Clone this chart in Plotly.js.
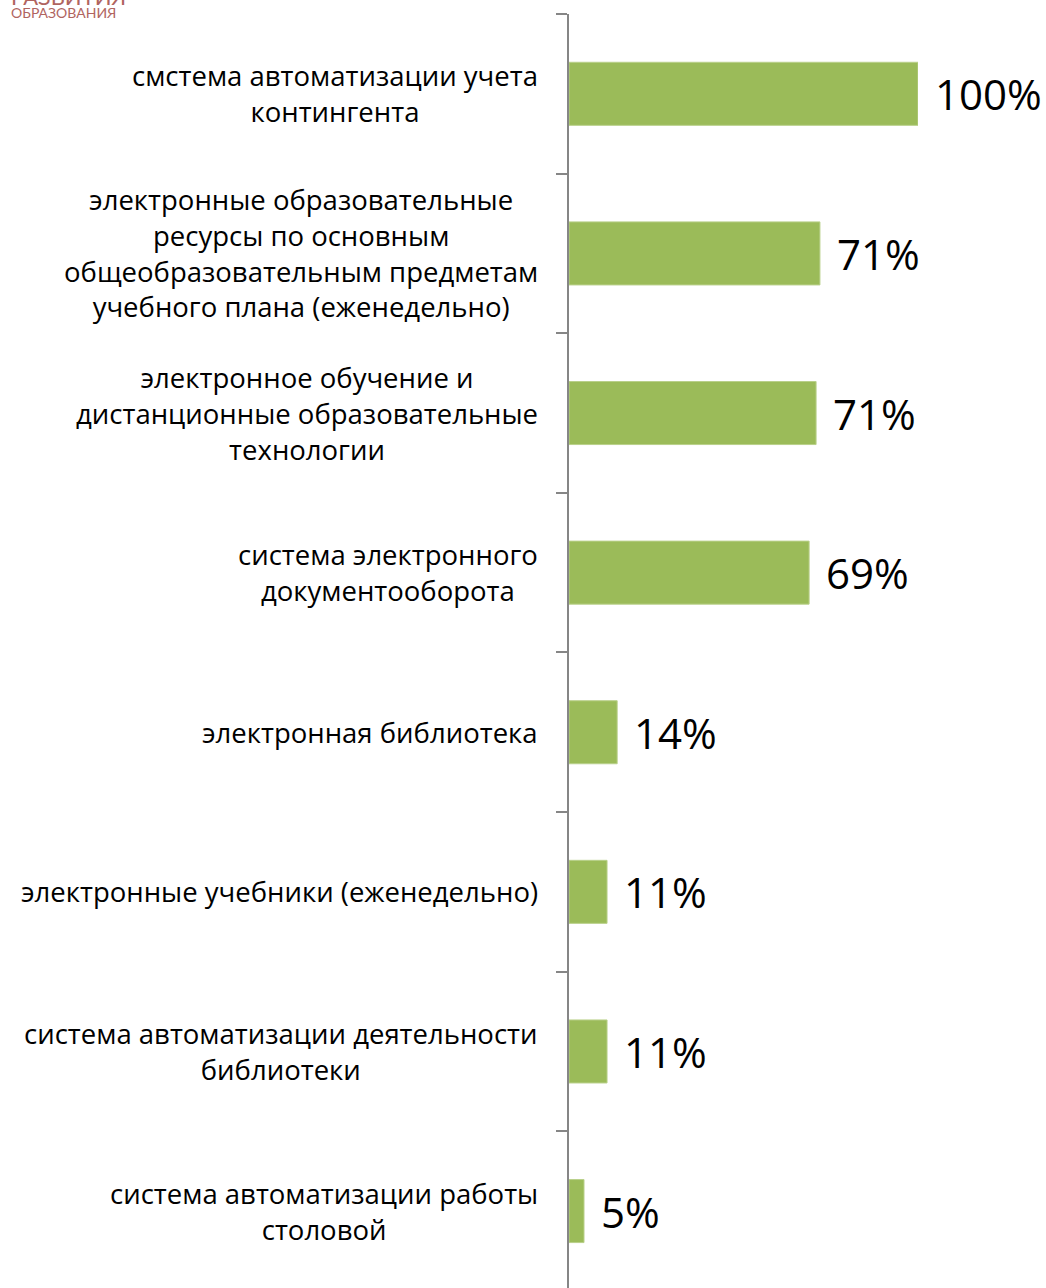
<!DOCTYPE html>
<html>
<head>
<meta charset="utf-8">
<script src="https://cdn.plot.ly/plotly-3.0.1.min.js"></script>
<style>html,body{margin:0;padding:0;background:#fff;}#chart{width:1046px;height:1288px;}</style>
</head>
<body>
<div id="chart"></div>
<script>
const categories = [
  "смстема автоматизации учета<br>контингента",
  "электронные образовательные<br>ресурсы по основным<br>общеобразовательным предметам<br>учебного плана (еженедельно)",
  "электронное обучение и<br>дистанционные образовательные<br>технологии",
  "система электронного<br>документооборота",
  "электронная библиотека",
  "электронные учебники (еженедельно)",
  "система автоматизации деятельности<br>библиотеки",
  "система автоматизации работы<br>столовой"
];
const values = [100, 71.9, 70.8, 68.8, 13.8, 10.9, 10.9, 4.3];
const valueLabels = ["100%", "71%", "71%", "69%", "14%", "11%", "11%", "5%"];

const catIdx = categories.map((c, i) => i);

const trace = {
  type: "bar",
  orientation: "h",
  x: values,
  y: catIdx,
  width: 0.395,
  marker: { color: "#9BBB59", line: { color: "#B9D08A", width: 1 } },
  hoverinfo: "skip"
};

const annotations = [];
categories.forEach((c, i) => {
  annotations.push({
    xref: "paper", yref: "y", x: 0, y: i,
    xanchor: "right", yanchor: "middle", xshift: -29,
    text: c, showarrow: false, align: "center",
    font: { family: "Open Sans, sans-serif", size: 27.5, color: "#000" }
  });
  annotations.push({
    xref: "x", yref: "y", x: values[i], y: i,
    xanchor: "left", yanchor: "middle", xshift: 15,
    text: valueLabels[i], showarrow: false,
    font: { family: "Open Sans, sans-serif", size: 42, color: "#000" }
  });
});
annotations.push({
  xref: "paper", yref: "paper", x: 0, y: 1, xshift: -560, yshift: 2,
  xanchor: "left", yanchor: "middle", text: "ОБРАЗОВАНИЯ", showarrow: false,
  font: { family: "Lato, sans-serif", size: 14, color: "#B0645F" }
});
annotations.push({
  xref: "paper", yref: "paper", x: 0, y: 1, xshift: -560, yshift: 18,
  xanchor: "left", yanchor: "middle", text: "РАЗВИТИЯ", showarrow: false,
  font: { family: "Lato, sans-serif", size: 22, color: "#B0645F" }
});

const layout = {
  width: 1046, height: 1288,
  margin: { l: 569, r: 128, t: 14, b: 0, pad: 0 },
  paper_bgcolor: "#fff", plot_bgcolor: "#fff",
  showlegend: false,
  xaxis: { range: [0, 100], visible: false, fixedrange: true },
  yaxis: {
    type: "linear",
    range: [7.482, -0.5],
    tickmode: "array",
    tickvals: [-0.5, 0.5, 1.5, 2.5, 3.5, 4.5, 5.5, 6.5],
    ticktext: ["", "", "", "", "", "", "", ""],
    ticks: "outside", ticklen: 11, tickwidth: 2, tickcolor: "#868686",
    showline: true, linecolor: "#868686", linewidth: 2,
    showgrid: false, zeroline: false, fixedrange: true
  },
  annotations: annotations
};

Plotly.newPlot("chart", [trace], layout, { staticPlot: true, displayModeBar: false });
</script>
</body>
</html>
